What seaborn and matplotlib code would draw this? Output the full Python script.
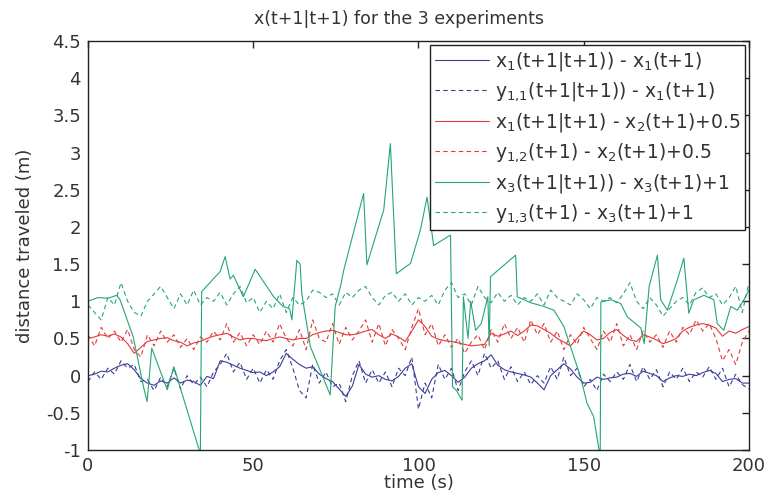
import matplotlib
matplotlib.use("Agg")
import matplotlib.pyplot as plt
import numpy as np
import pandas as pd
import seaborn as sns

# time axis for the noisy traces (every 2 s)
t = np.arange(0, 201, 2)

blue_est = [0.0, 0.02, 0.06, 0.05, 0.1, 0.14, 0.16, 0.08, -0.04, -0.1, -0.13, -0.07, -0.1, -0.03, -0.1, -0.06,
            -0.08, -0.13, -0.01, -0.04, 0.2, 0.18, 0.14, 0.1, 0.07, 0.04, 0.05, 0.0, 0.05, 0.12, 0.3, 0.22,
            0.15, 0.1, 0.12, 0.02, -0.04, -0.08, -0.18, -0.28, -0.14, 0.15, 0.02, -0.02, 0.0, -0.05, -0.07, -0.01,
            0.1, 0.16, -0.15, -0.24, -0.05, 0.04, 0.07, 0.0, -0.09, -0.02, 0.1, 0.16, 0.2, 0.28, 0.14, 0.08,
            0.05, 0.03, 0.01, -0.02, -0.1, -0.19, 0.0, 0.08, 0.16, 0.09, -0.02, -0.1, -0.09, -0.02, -0.05, -0.03,
            -0.02, 0.02, 0.03, -0.01, 0.06, 0.03, 0.0, -0.08, -0.03, 0.0, -0.01, 0.02, 0.0, 0.04, 0.07, 0.03,
            -0.08, -0.05, -0.04, -0.1, -0.1]
blue_meas = [-0.08, 0.05, -0.05, 0.1, 0.02, 0.2, 0.1, 0.15, -0.08, -0.05, -0.2, -0.02, -0.15, 0.1, -0.18, 0.0,
             -0.12, -0.02, -0.15, 0.05, 0.15, 0.3, 0.05, 0.18, -0.05, 0.1, -0.1, 0.08, -0.05, 0.2, 0.35, 0.1,
             -0.2, -0.3, 0.15, -0.1, 0.05, -0.15, -0.1, -0.35, 0.0, 0.2, -0.1, 0.08, -0.1, 0.05, -0.15, 0.1,
             0.0, 0.25, -0.45, -0.1, -0.3, 0.15, -0.05, 0.1, -0.2, 0.05, 0.2, 0.0, 0.3, 0.1, 0.2, -0.05,
             0.12, -0.08, 0.05, -0.12, 0.0, -0.1, 0.12, -0.05, 0.25, 0.0, 0.1, -0.15, -0.05, -0.2, 0.02, -0.08,
             0.05, -0.05, 0.15, -0.08, 0.12, -0.05, 0.08, -0.15, 0.05, -0.05, 0.1, -0.08, 0.05, -0.02, 0.12, -0.05,
             0.1, -0.15, 0.02, -0.12, -0.18]
red_est = [0.5, 0.52, 0.55, 0.53, 0.56, 0.52, 0.43, 0.3, 0.38, 0.46, 0.48, 0.5, 0.51, 0.47, 0.45, 0.4,
           0.44, 0.46, 0.5, 0.53, 0.55, 0.57, 0.52, 0.48, 0.5, 0.5, 0.48, 0.47, 0.5, 0.52, 0.5, 0.48,
           0.5, 0.5, 0.55, 0.58, 0.6, 0.61, 0.58, 0.55, 0.55, 0.57, 0.6, 0.62, 0.55, 0.5, 0.56, 0.52,
           0.46, 0.6, 0.75, 0.66, 0.53, 0.49, 0.47, 0.46, 0.44, 0.42, 0.4, 0.41, 0.42, 0.57, 0.53, 0.56,
           0.6, 0.54, 0.6, 0.68, 0.67, 0.62, 0.57, 0.5, 0.45, 0.4, 0.5, 0.6, 0.55, 0.48, 0.5, 0.58,
           0.62, 0.54, 0.48, 0.46, 0.55, 0.52, 0.48, 0.43, 0.46, 0.5, 0.6, 0.65, 0.68, 0.7, 0.68, 0.64,
           0.53, 0.6, 0.57, 0.62, 0.66]
red_meas = [0.55, 0.4, 0.65, 0.5, 0.6, 0.45, 0.62, 0.35, 0.25, 0.55, 0.4, 0.6, 0.45, 0.55, 0.38, 0.5,
            0.35, 0.52, 0.45, 0.6, 0.48, 0.7, 0.45, 0.58, 0.4, 0.55, 0.42, 0.6, 0.45, 0.7, 0.5, 0.4,
            0.62, 0.35, 0.75, 0.5, 0.45, 0.7, 0.42, 0.65, 0.48, 0.6, 0.75, 0.45, 0.7, 0.4, 0.62, 0.5,
            0.35, 0.65, 0.9, 0.55, 0.7, 0.4, 0.55, 0.38, 0.5, 0.3, 0.45, 0.55, 0.35, 0.62, 0.45, 0.7,
            0.5, 0.65, 0.45, 0.75, 0.55, 0.7, 0.45, 0.6, 0.35, 0.55, 0.42, 0.65, 0.5, 0.35, 0.6, 0.45,
            0.7, 0.4, 0.55, 0.35, 0.6, 0.45, 0.55, 0.38, 0.6, 0.45, 0.65, 0.55, 0.75, 0.6, 0.7, 0.5,
            0.2, 0.35, 0.15, 0.45, 0.6]
green_meas = [0.95, 0.85, 0.75, 1.05, 0.95, 1.25, 1.0, 0.85, 0.8, 1.0, 1.1, 1.2, 1.05, 0.9, 1.1, 0.95,
              1.15, 0.95, 1.05, 1.0, 1.12, 0.95, 1.1, 1.2, 0.98, 1.05, 0.85, 1.0, 0.9, 1.1, 0.85, 1.05,
              0.95, 1.0, 1.15, 1.12, 1.05, 1.1, 0.95, 1.12, 1.05, 1.15, 1.2, 1.05, 0.95, 1.08, 1.12, 1.0,
              1.1, 0.95, 1.05, 1.0, 1.08, 0.95, 1.15, 1.25, 1.05, 1.1, 0.95, 1.2, 1.05, 0.98, 1.12, 1.0,
              1.08, 0.95, 1.05, 1.0, 1.1, 0.95, 1.15, 1.05, 1.0, 0.95, 1.1, 1.02, 0.9, 1.05, 1.0, 1.05,
              0.98, 1.1, 1.25, 1.0, 0.9, 1.05, 0.95, 0.8, 0.9, 1.0, 1.05, 0.95, 1.12, 1.18, 1.05, 1.1,
              0.95, 1.05, 1.2, 0.85, 1.25]

# third estimate only has its corner points (straight ramps between them)
t_green = [0, 3, 6, 8.7, 9.7, 13.7, 16.8, 17.9, 19.3, 24, 26, 34, 34.4, 40, 41.5, 43, 44, 47, 50.6, 56.2,
           59, 61, 61.7, 63.2, 64.2, 64.7, 67.3, 73.3, 74.8, 76.4, 77.4, 83.4, 84.4, 89.5, 91.5, 93.3, 97.6,
           100.6, 102.6, 104.6, 109.7, 110.3, 111.5, 113.2, 113.6, 115, 115.8, 117.3, 119, 121, 121.4, 121.8,
           129.4, 129.9, 134, 138, 141, 144, 146, 149, 151, 153, 154.5, 155, 155.2, 158.2, 161.2, 163.2,
           167.3, 168.3, 169.8, 172.3, 173.3, 175.3, 178.3, 180.3, 181.8, 183.3, 186.4, 189.4, 190.4, 192.4,
           194.5, 196.5, 198.5, 200]
green_est = [1.0, 1.05, 1.04, 1.08, 1.02, 0.52, -0.15, -0.35, 0.37, -0.19, 0.12, -1.05, 1.13, 1.4, 1.6, 1.3,
             1.35, 1.06, 1.43, 1.06, 0.93, 0.9, 0.75, 1.55, 1.5, 1.1, 0.39, -0.26, 0.93, 1.2, 1.42, 2.45, 1.49,
             2.23, 3.12, 1.37, 1.51, 1.96, 2.4, 1.75, 1.89, -0.15, -0.2, -0.33, 1.06, 0.5, 1.0, 0.61, 0.7,
             1.06, 0.4, 1.33, 1.62, 1.06, 0.98, 0.93, 0.88, 0.66, 0.39, -0.01, -0.37, -0.55, -0.96, -1.1, 0.99,
             1.02, 0.97, 0.79, 0.64, 0.43, 1.2, 1.62, 1.02, 0.88, 1.28, 1.58, 0.84, 1.02, 1.08, 1.02, 0.7,
             0.61, 0.93, 0.88, 1.02, 1.15]

labels = [
    r"x$_1$(t+1|t+1)) - x$_1$(t+1)",
    r"y$_{1{,}1}$(t+1|t+1)) - x$_1$(t+1)",
    r"x$_1$(t+1|t+1) - x$_2$(t+1)+0.5",
    r"y$_{1{,}2}$(t+1) - x$_2$(t+1)+0.5",
    r"x$_3$(t+1|t+1)) - x$_3$(t+1)+1",
    r"y$_{1{,}3}$(t+1) - x$_3$(t+1)+1",
]

blue = "#3c3c96"
red = "#e23a3a"
green = "#25a673"

sns.set_style("white")
plt.rcParams["font.family"] = ["DejaVu Sans"]
plt.rcParams["mathtext.fontset"] = "dejavusans"

fig = plt.figure(figsize=(7.65, 4.91), dpi=100)
ax = fig.add_axes([0.115, 0.0835, 0.864, 0.833])

dash = (4, 3)
series = [
    (t, blue_est, blue, "-"),
    (t, blue_meas, blue, "--"),
    (t, red_est, red, "-"),
    (t, red_meas, red, "--"),
    (t_green, green_est, green, "-"),
    (t, green_meas, green, "--"),
]
for (tx, vals, col, ls), lab in zip(series, labels):
    kw = dict(dashes=dash) if ls == "--" else {}
    sns.lineplot(x=tx, y=vals, ax=ax, color=col, lw=0.8, estimator=None, label=lab, **kw)

ax.set_xlim(0, 200)
ax.set_ylim(-1, 4.5)
ax.set_xticks(np.arange(0, 201, 50))
ax.set_yticks(np.arange(-1, 4.51, 0.5))
ax.set_yticklabels(["-1", "-0.5", "0", "0.5", "1", "1.5", "2", "2.5", "3", "3.5", "4", "4.5"])
ax.tick_params(direction="in", length=5, width=1, top=True, right=True, labelsize=13,
               colors="#222222", labelcolor="#333333", pad=5)
for s in ax.spines.values():
    s.set_color("#222222")
    s.set_linewidth(1)

ax.set_xlabel("time (s)", fontsize=13, color="#333333", labelpad=-1)
ax.set_ylabel("distance traveled (m)", fontsize=13, color="#333333", labelpad=9)
ax.set_title("x(t+1|t+1) for the 3 experiments", fontsize=12.5, color="#333333", pad=12, x=0.47)

leg = ax.legend(loc="upper right", bbox_to_anchor=(0.994, 0.99), fontsize=13.5, frameon=True,
                fancybox=False, framealpha=1, edgecolor="#222222", handlelength=2.9,
                handletextpad=0.3, labelspacing=0.4, borderpad=0.25, borderaxespad=0)
leg.get_frame().set_linewidth(1)
for txt in leg.get_texts():
    txt.set_color("#333333")

fig.savefig("out.png", dpi=100)
